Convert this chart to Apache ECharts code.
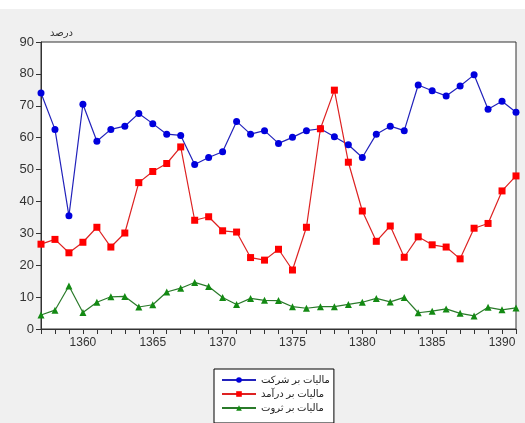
<!DOCTYPE html>
<html><head><meta charset="utf-8">
<script src="https://cdn.jsdelivr.net/npm/echarts@6/dist/echarts.min.js"></script>
<style>html,body{margin:0;padding:0;background:#f0f0f0}#c{width:525px;height:423px}</style>
</head><body><div id="c"></div>
<script>
var years = [];
for (var y = 1357; y <= 1391; y++) years.push(y);
var companyTax = [74,62.6,35.5,70.5,58.9,62.6,63.6,67.6,64.4,61.1,60.7,51.6,53.8,55.6,65.1,61.1,62.2,58.2,60.1,62.2,62.8,60.3,57.8,53.8,61.1,63.6,62.2,76.5,74.7,73.1,76.2,79.7,68.9,71.4,68.0];
var incomeTax = [26.6,28.1,23.9,27.2,31.9,25.7,30.1,45.9,49.4,51.9,57.1,34.1,35.2,30.8,30.4,22.4,21.6,25.0,18.5,31.9,62.8,74.9,52.3,37.0,27.5,32.3,22.5,28.9,26.4,25.7,22.0,31.6,33.1,43.3,48.0];
var wealthTax = [4.4,5.9,13.5,5.2,8.4,10.1,10.2,6.9,7.6,11.6,12.8,14.6,13.3,9.9,7.7,9.6,9.0,8.9,7.0,6.5,7.0,7.0,7.7,8.4,9.6,8.5,9.9,5.1,5.6,6.3,4.9,4.1,6.8,6.0,6.6];
var seriesNames = ['مالیات بر شرکت','مالیات بر درآمد','مالیات بر ثروت'];
var yTicks = [0,10,20,30,40,50,60,70,80,90];

function pairs(vals){ return years.map(function(yr,i){ return [yr, vals[i]]; }); }

var chart = echarts.init(document.getElementById('c'));
chart.setOption({
  backgroundColor: '#f0f0f0',
  animation: false,
  graphic: [
    {type:'rect', shape:{x:0,y:0,width:525,height:9}, style:{fill:'#ffffff'}, z:-10}
  ],
  grid: {left:41, right:9, top:42, bottom:94, show:true, backgroundColor:'#ffffff', borderColor:'#333', borderWidth:1},
  title: {text:'درصد', left:45, top:23, textStyle:{fontSize:10, fontWeight:'normal', color:'#333', fontFamily:'Noto Sans, DejaVu Sans'}},
  legend: {
    orient:'vertical', left:214, top:369, itemWidth:34, itemHeight:7, itemGap:4,
    backgroundColor:'#ffffff', borderColor:'#000', borderWidth:1, borderRadius:0,
    padding:[6,4,10,7],
    textStyle:{fontSize:10, color:'#222', fontFamily:'Noto Sans, DejaVu Sans'},
    data: seriesNames
  },
  xAxis: {
    type:'value', min:1357, max:1391, interval:1,
    axisLine:{onZero:false, lineStyle:{color:'#333'}},
    axisTick:{show:true, length:5, lineStyle:{color:'#333'}},
    splitLine:{show:false},
    axisLabel:{color:'#333', fontSize:12, fontFamily:'Liberation Sans, Arial', margin:8,
      formatter:function(v){ return v % 5 === 0 ? String(v) : ''; }}
  },
  yAxis: {
    type:'value', min:yTicks[0], max:yTicks[yTicks.length-1], interval:10,
    axisLine:{show:true, lineStyle:{color:'#333'}},
    axisTick:{show:true, length:5, lineStyle:{color:'#333'}},
    splitLine:{show:false},
    axisLabel:{color:'#333', fontSize:13, fontFamily:'Liberation Sans, Arial', margin:7}
  },
  series: [
    {name:seriesNames[0], type:'line', data:pairs(companyTax), symbol:'circle', symbolSize:7,
      itemStyle:{color:'#0000dd'}, lineStyle:{color:'#2222bb', width:1.2}},
    {name:seriesNames[1], type:'line', data:pairs(incomeTax), symbol:'rect', symbolSize:7,
      itemStyle:{color:'#ff0000'}, lineStyle:{color:'#dd2222', width:1.2}},
    {name:seriesNames[2], type:'line', data:pairs(wealthTax), symbol:'triangle', symbolSize:7,
      itemStyle:{color:'#138a13'}, lineStyle:{color:'#2a7a2a', width:1.2}}
  ]
});
</script></body></html>
